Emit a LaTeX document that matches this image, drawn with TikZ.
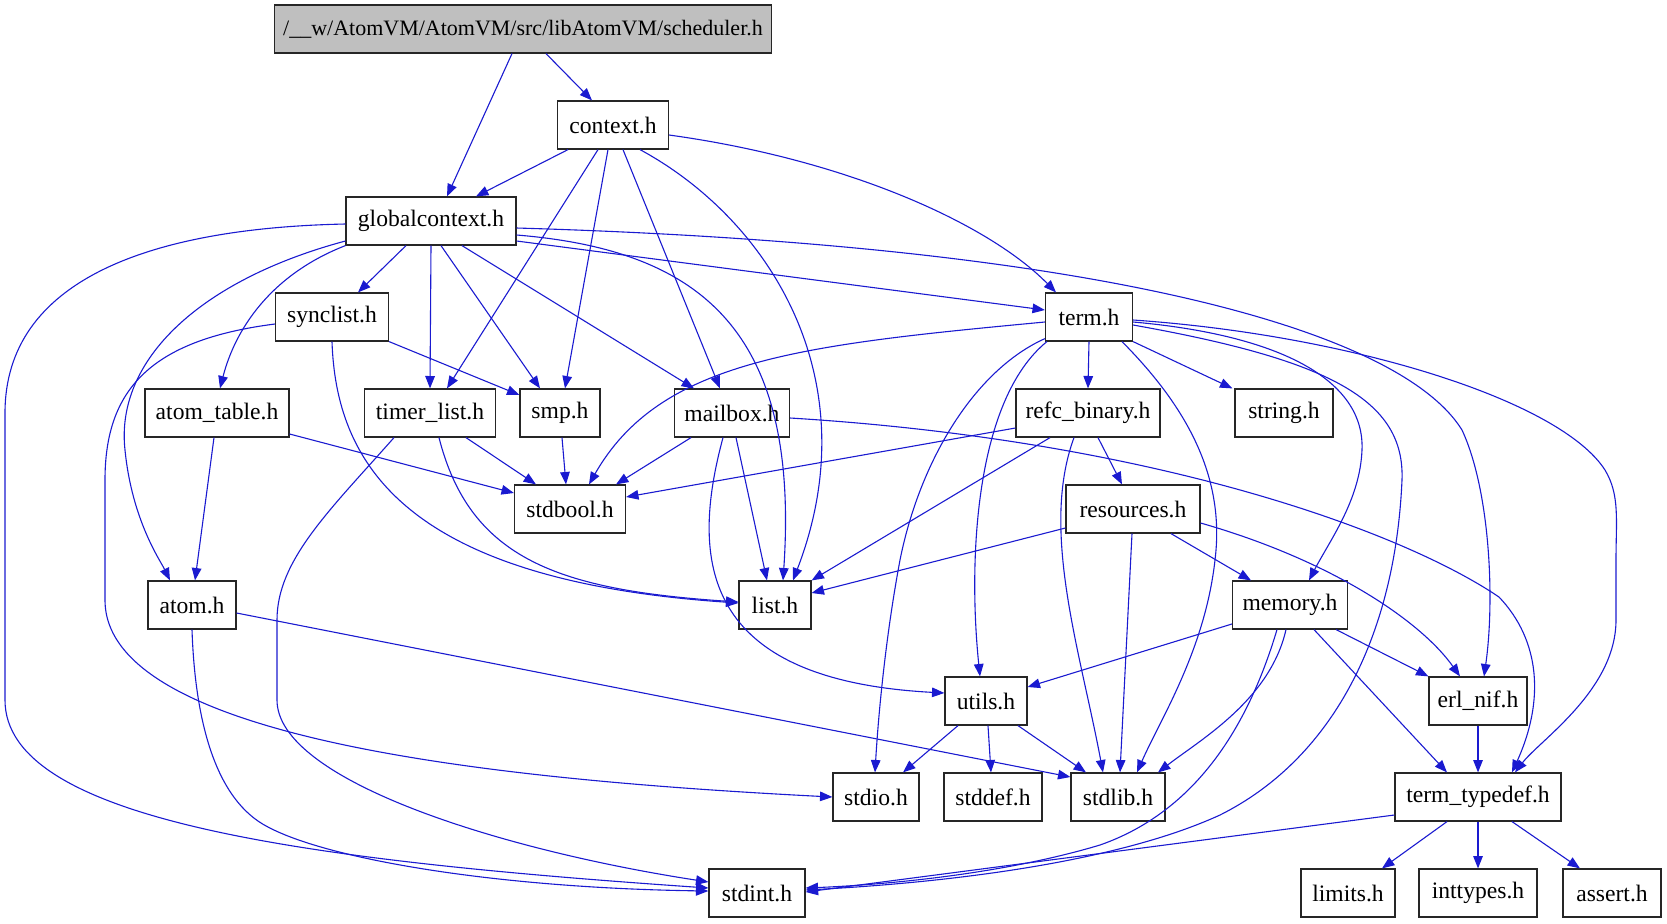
\documentclass[tikz,border=0pt]{standalone}
\usepackage{fontspec}
\setmainfont{Liberation Serif}
\usetikzlibrary{calc,arrows.meta}

\definecolor{inclblue}{RGB}{26,26,208}
\definecolor{mainfill}{RGB}{191,191,191}
\tikzset{
	hfile/.style={draw=black!85, line width=0.6pt, minimum height=24pt, inner sep=0pt,
		font={\fontsize{11.8}{13}\selectfont}},
	incl/.style={draw=inclblue, line width=0.55pt, -{Triangle[length=6.2pt,width=4.8pt]}}
}

\begin{document}
\begin{tikzpicture}[x=0.5pt, y=-0.5pt]
	\useasboundingbox (0,0) rectangle (1667,923);
	% header files
	\node [hfile, fill=mainfill, minimum width=248.5pt, font={\fontsize{11}{13}\selectfont}] (scheduler) at (523,29) {/\_\_w/AtomVM/AtomVM/src/libAtomVM/scheduler.h};
	\node [hfile, minimum width=55.5pt] (context) at (613,125) {context.h};
	\node [hfile, minimum width=85pt] (globalcontext) at (431,221) {globalcontext.h};
	\node [hfile, minimum width=56.5pt] (synclist) at (332,317) {synclist.h};
	\node [hfile, minimum width=43.5pt] (term) at (1089,317) {term.h};
	\node [hfile, minimum width=72pt] (atomtable) at (217,413) {atom\_table.h};
	\node [hfile, minimum width=65.5pt] (timerlist) at (430,413) {timer\_list.h};
	\node [hfile, minimum width=40pt] (smp) at (560,413) {smp.h};
	\node [hfile, minimum width=57.5pt] (mailbox) at (732,413) {mailbox.h};
	\node [hfile, minimum width=72pt] (refcbinary) at (1088,413) {refc\_binary.h};
	\node [hfile, minimum width=49pt] (string) at (1284,413) {string.h};
	\node [hfile, minimum width=55.5pt] (stdbool) at (570,509) {stdbool.h};
	\node [hfile, minimum width=67pt] (resources) at (1133,509) {resources.h};
	\node [hfile, minimum width=44pt] (atom) at (192,605) {atom.h};
	\node [hfile, minimum width=36pt] (list) at (775,605) {list.h};
	\node [hfile, minimum width=57.5pt] (memory) at (1290,605) {memory.h};
	\node [hfile, minimum width=41pt] (utils) at (986,701) {utils.h};
	\node [hfile, minimum width=49pt] (erlnif) at (1478,701) {erl\_nif.h};
	\node [hfile, minimum width=43pt] (stdio) at (876,797) {stdio.h};
	\node [hfile, minimum width=49pt] (stddef) at (993,797) {stddef.h};
	\node [hfile, minimum width=47pt] (stdlib) at (1118,797) {stdlib.h};
	\node [hfile, minimum width=83pt] (termtypedef) at (1478,797) {term\_typedef.h};
	\node [hfile, minimum width=48pt] (stdint) at (757,893) {stdint.h};
	\node [hfile, minimum width=47pt] (limits) at (1348,893) {limits.h};
	\node [hfile, minimum width=59pt] (inttypes) at (1478,893) {inttypes.h};
	\node [hfile, minimum width=49pt] (assert) at (1612,893) {assert.h};

	% scheduler.h
	\draw [incl] ($(scheduler.south)+(23,0)$) -- ($(context.north)+(-21,0)$);
	\draw [incl] ($(scheduler.south)+(-11,0)$) -- ($(globalcontext.north)+(16,0)$);
	% context.h
	\draw [incl] ($(context.south)+(-45,0)$) -- ($(globalcontext.north)+(45,0)$);
	\draw [incl] ($(context.south)+(-15,0)$) -- ($(timerlist.north)+(17,0)$);
	\draw [incl] ($(context.south)+(-5,0)$) -- ($(smp.north)+(5,0)$);
	\draw [incl] ($(context.south)+(10,0)$) -- ($(mailbox.north)+(-12,0)$);
	\draw [incl] ($(context.south)+(27,0)$) .. controls (770,220) and (870,380) .. ($(list.north)+(18,0)$);
	\draw [incl] ($(context.east)+(0,10)$) .. controls (850,160) and (990,225) .. ($(term.north)+(-33,0)$);
	% globalcontext.h
	\draw [incl] ($(globalcontext.west)+(0,3)$) .. controls (150,228) and (5,280) .. (5,413) -- (5,700)
		.. controls (5,820) and (300,860) .. ($(stdint.west)+(0,-5)$);
	\draw [incl] ($(globalcontext.west)+(0,20)$) .. controls (200,280) and (115,360) .. (125,450)
		.. controls (132,520) and (160,560) .. ($(atom.north)+(-22,0)$);
	\draw [incl] ($(globalcontext.south west)$) .. controls (270,275) and (235,330) .. ($(atomtable.north)+(3,0)$);
	\draw [incl] ($(globalcontext.south)+(-25,0)$) -- ($(synclist.north)+(26,0)$);
	\draw [incl] (globalcontext.south) -- (timerlist.north);
	\draw [incl] ($(globalcontext.south)+(10,0)$) -- ($(smp.north)+(-20,0)$);
	\draw [incl] ($(globalcontext.south)+(31,0)$) -- ($(mailbox.north)+(-38,0)$);
	\draw [incl] ($(globalcontext.east)+(0,14)$) .. controls (700,250) and (800,330) .. ($(list.north)+(8,0)$);
	\draw [incl] ($(globalcontext.east)+(0,20)$) -- ($(term.west)+(0,-7)$);
	\draw [incl] ($(globalcontext.east)+(0,7)$) .. controls (1100,245) and (1400,330) .. (1462,430)
		.. controls (1490,490) and (1495,600) .. ($(erlnif.north)+(6,0)$);
	% synclist.h
	\draw [incl] ($(synclist.west)+(0,7)$) .. controls (150,340) and (105,390) .. (105,480) -- (105,600)
		.. controls (105,740) and (500,780) .. (stdio.west);
	\draw [incl] (synclist.south east) -- ($(smp.west)+(0,-18)$);
	\draw [incl] (synclist.south) .. controls (336,460) and (400,580) .. ($(list.west)+(0,-2)$);
	% atom_table.h
	\draw [incl] ($(atomtable.east)+(0,21)$) -- ($(stdbool.west)+(0,-16)$);
	\draw [incl] ($(atomtable.south)+(-3,0)$) -- ($(atom.north)+(3,0)$);
	% timer_list.h
	\draw [incl] ($(timerlist.south)+(36,0)$) -- ($(stdbool.north)+(-34,0)$);
	\draw [incl] ($(timerlist.south)+(9,0)$) .. controls (470,560) and (560,590) .. ($(list.west)+(0,-3)$);
	\draw [incl] ($(timerlist.south)+(-36,0)$) .. controls (330,510) and (277,560) .. (277,620) -- (277,700)
		.. controls (277,780) and (500,850) .. ($(stdint.west)+(0,-11)$);
	% smp.h
	\draw [incl] ($(smp.south)+(2,0)$) -- ($(stdbool.north)+(-4,0)$);
	% mailbox.h
	\draw [incl] ($(mailbox.south)+(-41,0)$) -- ($(stdbool.north)+(46,0)$);
	\draw [incl] ($(mailbox.south)+(4,0)$) -- ($(list.north)+(-8,0)$);
	\draw [incl] ($(mailbox.south)+(-9,0)$) .. controls (690,560) and (700,680) .. ($(utils.west)+(0,-8)$);
	\draw [incl] ($(mailbox.east)+(0,5)$) .. controls (1150,440) and (1400,530) .. (1499,597)
		.. controls (1540,640) and (1545,700) .. ($(termtypedef.north)+(34,0)$);
	% term.h
	\draw [incl] ($(term.west)+(0,5)$) .. controls (800,345) and (660,360) .. ($(stdbool.north)+(19,0)$);
	\draw [incl] ($(term.south west)+(0,-3)$) .. controls (975,370) and (920,460) .. (900,560)
		.. controls (885,640) and (878,720) .. ($(stdio.north)+(-1,0)$);
	\draw [incl] ($(term.south west)+(2,0)$) .. controls (975,400) and (968,560) .. ($(utils.north)+(-6,0)$);
	\draw [incl] (term.south) -- (refcbinary.north);
	\draw [incl] ($(term.south)+(33,0)$) .. controls (1190,410) and (1225,480) .. (1215,560)
		.. controls (1205,650) and (1160,720) .. ($(stdlib.north)+(19,0)$);
	\draw [incl] (term.south east) -- ($(string.north west)+(-2,0)$);
	\draw [incl] ($(term.east)+(0,5)$) .. controls (1280,335) and (1365,380) .. (1362,450)
		.. controls (1360,500) and (1330,540) .. ($(memory.north)+(19,0)$);
	\draw [incl] ($(term.east)+(0,8)$) .. controls (1330,360) and (1405,400) .. (1402,480)
		.. controls (1395,640) and (1330,760) .. (1220,815)
		.. controls (1100,870) and (900,885) .. ($(stdint.east)+(0,-3)$);
	\draw [incl] ($(term.east)+(0,3)$) .. controls (1350,335) and (1560,400) .. (1605,470)
		.. controls (1620,495) and (1616,520) .. (1616,560) -- (1616,620)
		.. controls (1616,690) and (1540,740) .. ($(termtypedef.north)+(37,0)$);
	% refc_binary.h
	\draw [incl] ($(refcbinary.west)+(0,15)$) -- ($(stdbool.east)+(0,-12)$);
	\draw [incl] ($(refcbinary.south)+(-38,0)$) -- (list.north east);
	\draw [incl] ($(refcbinary.south)+(-14,0)$) .. controls (1040,530) and (1080,650) .. ($(stdlib.north)+(-15,0)$);
	\draw [incl] ($(refcbinary.south)+(10,0)$) -- ($(resources.north)+(-11,0)$);
	% resources.h
	\draw [incl] ($(resources.west)+(0,19)$) -- ($(list.east)+(0,-12)$);
	\draw [incl] ($(resources.south)+(-1,0)$) -- ($(stdlib.north)+(2,0)$);
	\draw [incl] ($(resources.south)+(38,0)$) -- ($(memory.north)+(-39,0)$);
	\draw [incl] ($(resources.east)+(0,14)$) .. controls (1330,560) and (1420,620) .. ($(erlnif.north)+(-18,0)$);
	% atom.h
	\draw [incl] (atom.south) .. controls (195,720) and (215,800) .. (268,827)
		.. controls (330,860) and (500,888) .. ($(stdint.west)+(0,-2)$);
	\draw [incl] ($(atom.east)+(0,8)$) -- ($(stdlib.west)+(0,-20)$);
	% memory.h
	\draw [incl] ($(memory.west)+(0,19)$) -- ($(utils.east)+(0,-14)$);
	\draw [incl] ($(memory.south)+(-13,0)$) .. controls (1250,720) and (1200,810) .. (1100,845)
		.. controls (1000,875) and (880,885) .. ($(stdint.east)+(0,-5)$);
	\draw [incl] ($(memory.south)+(-4,0)$) .. controls (1270,700) and (1200,740) .. ($(stdlib.north)+(40,0)$);
	\draw [incl] ($(memory.south)+(24,0)$) -- ($(termtypedef.north)+(-31,0)$);
	\draw [incl] ($(memory.south east)+(-12,0)$) -- (erlnif.north west);
	% utils.h
	\draw [incl] ($(utils.south)+(-28,0)$) -- ($(stdio.north)+(27,0)$);
	\draw [incl] ($(utils.south)+(2,0)$) -- ($(stddef.north)+(-2,0)$);
	\draw [incl] ($(utils.south)+(32,0)$) -- ($(stdlib.north)+(-32,0)$);
	% erl_nif.h
	\draw [incl] (erlnif.south) -- (termtypedef.north);
	% term_typedef.h
	\draw [incl] ($(termtypedef.west)+(0,18)$) -- ($(stdint.east)+(0,-1)$);
	\draw [incl] ($(termtypedef.south)+(-31,0)$) -- ($(limits.north)+(34,0)$);
	\draw [incl] (termtypedef.south) -- (inttypes.north);
	\draw [incl] ($(termtypedef.south)+(34,0)$) -- ($(assert.north)+(-32,0)$);
\end{tikzpicture}
\end{document}
